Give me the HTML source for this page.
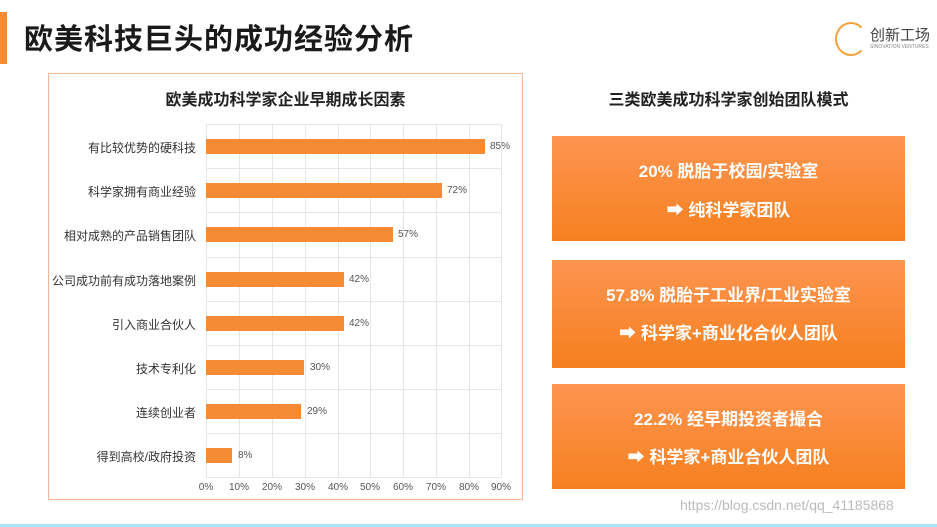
<!DOCTYPE html>
<html><head><meta charset="utf-8"><style>
body{margin:0;width:937px;height:527px;background:#fff;position:relative;overflow:hidden;font-family:"Liberation Sans","Noto Sans CJK SC",sans-serif;}
.a{position:absolute;}
.title{left:24px;top:16px;font-size:29px;font-weight:bold;color:#1a1a1a;letter-spacing:1px;}
.bar{background:#f68b36;height:15px;position:absolute;left:206px;}
.lab{position:absolute;right:741px;font-size:12px;color:#333;white-space:nowrap;}
.val{position:absolute;font-size:10px;color:#555;}
.tick{position:absolute;top:482px;font-size:10px;color:#555;width:40px;text-align:center;}
.box{position:absolute;left:552px;width:353px;background:linear-gradient(#fd9450,#f6801f);color:#fff;font-weight:bold;font-size:17px;text-align:center;}
.box div{position:absolute;width:100%;}
</style></head><body>
<div class="a" style="left:0;top:12px;width:7px;height:52px;background:#f68b36"></div>
<div class="a title">欧美科技巨头的成功经验分析</div>
<div class="a" style="left:835px;top:22px;width:28px;height:30px;border:2px solid #f4a13a;border-radius:50%;border-right-color:transparent"></div>
<div class="a" style="left:870px;top:24px;font-size:15px;color:#444">创新工场</div>
<div class="a" style="left:870px;top:44px;font-size:5px;color:#888">SINOVATION VENTURES</div>
<div class="a" style="left:48px;top:73px;width:473px;height:425px;border:1px solid #f5b894"></div>
<div class="a" style="left:48px;top:86px;width:475px;text-align:center;font-size:16px;font-weight:bold;color:#222">欧美成功科学家企业早期成长因素</div>
<div class="a" style="left:552px;top:86px;width:353px;text-align:center;font-size:16px;font-weight:bold;color:#222">三类欧美成功科学家创始团队模式</div>
<svg class="a" style="left:0;top:0" width="937" height="527">
<g stroke="#e6e6e6" stroke-width="1">
<line x1="206.5" y1="124" x2="206.5" y2="477"/><line x1="239.5" y1="124" x2="239.5" y2="477"/><line x1="272.5" y1="124" x2="272.5" y2="477"/><line x1="305.5" y1="124" x2="305.5" y2="477"/><line x1="338.5" y1="124" x2="338.5" y2="477"/><line x1="370.5" y1="124" x2="370.5" y2="477"/><line x1="403.5" y1="124" x2="403.5" y2="477"/><line x1="436.5" y1="124" x2="436.5" y2="477"/><line x1="469.5" y1="124" x2="469.5" y2="477"/><line x1="501.5" y1="124" x2="501.5" y2="477"/>
<line x1="206" y1="124.5" x2="501" y2="124.5"/><line x1="206" y1="168.5" x2="501" y2="168.5"/><line x1="206" y1="212.5" x2="501" y2="212.5"/><line x1="206" y1="257.5" x2="501" y2="257.5"/><line x1="206" y1="301.5" x2="501" y2="301.5"/><line x1="206" y1="345.5" x2="501" y2="345.5"/><line x1="206" y1="389.5" x2="501" y2="389.5"/><line x1="206" y1="433.5" x2="501" y2="433.5"/><line x1="206" y1="477.5" x2="501" y2="477.5"/>
</g></svg>
<div class="bar" style="top:139px;width:279px"></div><div class="val" style="left:490px;top:141px">85%</div><div class="lab" style="top:139px">有比较优势的硬科技</div>
<div class="bar" style="top:183px;width:236px"></div><div class="val" style="left:447px;top:185px">72%</div><div class="lab" style="top:183px">科学家拥有商业经验</div>
<div class="bar" style="top:227px;width:187px"></div><div class="val" style="left:398px;top:229px">57%</div><div class="lab" style="top:227px">相对成熟的产品销售团队</div>
<div class="bar" style="top:272px;width:138px"></div><div class="val" style="left:349px;top:274px">42%</div><div class="lab" style="top:272px">公司成功前有成功落地案例</div>
<div class="bar" style="top:316px;width:138px"></div><div class="val" style="left:349px;top:318px">42%</div><div class="lab" style="top:316px">引入商业合伙人</div>
<div class="bar" style="top:360px;width:98px"></div><div class="val" style="left:310px;top:362px">30%</div><div class="lab" style="top:360px">技术专利化</div>
<div class="bar" style="top:404px;width:95px"></div><div class="val" style="left:307px;top:406px">29%</div><div class="lab" style="top:404px">连续创业者</div>
<div class="bar" style="top:448px;width:26px"></div><div class="val" style="left:238px;top:450px">8%</div><div class="lab" style="top:448px">得到高校/政府投资</div>
<div class="tick" style="left:186px">0%</div><div class="tick" style="left:219px">10%</div><div class="tick" style="left:252px">20%</div><div class="tick" style="left:285px">30%</div><div class="tick" style="left:318px">40%</div><div class="tick" style="left:350px">50%</div><div class="tick" style="left:383px">60%</div><div class="tick" style="left:416px">70%</div><div class="tick" style="left:449px">80%</div><div class="tick" style="left:481px">90%</div>
<div class="box" style="top:136px;height:105px"><div style="top:21px">20% 脱胎于校园/实验室</div><div style="top:60px">➡ 纯科学家团队</div></div>
<div class="box" style="top:260px;height:108px"><div style="top:21px">57.8% 脱胎于工业界/工业实验室</div><div style="top:59px">➡ 科学家+商业化合伙人团队</div></div>
<div class="box" style="top:384px;height:105px"><div style="top:21px">22.2% 经早期投资者撮合</div><div style="top:59px">➡ 科学家+商业合伙人团队</div></div>
<div class="a" style="left:680px;top:497px;font-size:14px;color:#bbb">https://blog.csdn.net/qq_41185868</div>
<div class="a" style="left:0;top:524px;width:937px;height:3px;background:#a8e4f5"></div>
</body></html>
